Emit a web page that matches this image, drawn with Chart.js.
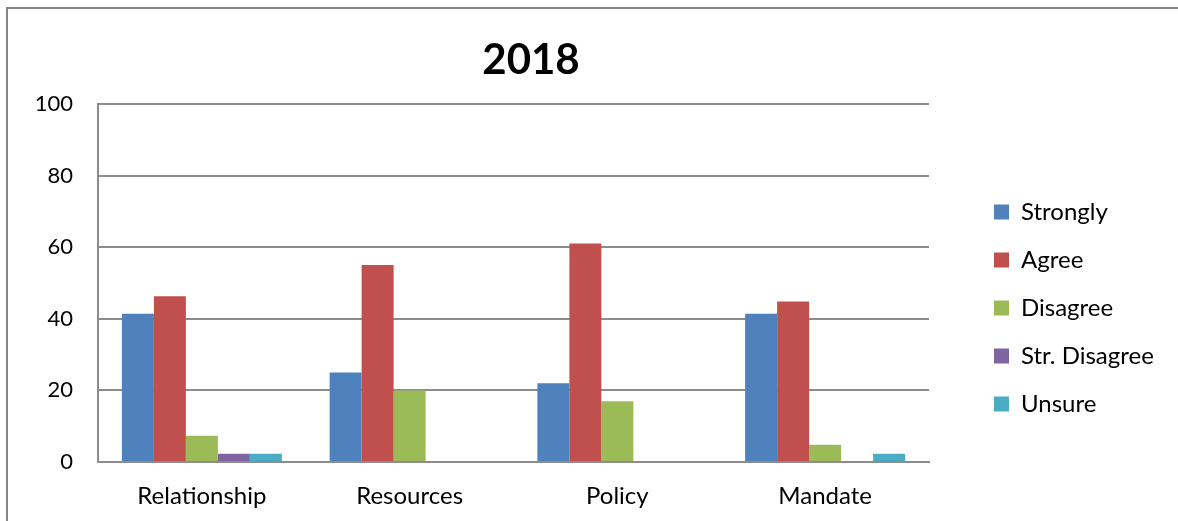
<!DOCTYPE html>
<html>
<head>
<meta charset="utf-8">
<script src="https://cdn.jsdelivr.net/npm/chart.js@4/dist/chart.umd.min.js"></script>
<style>
  html, body { margin: 0; padding: 0; background: #ffffff; }
  #wrap { width: 1178px; height: 521px; position: relative; }
</style>
</head>
<body>
<div id="wrap"><canvas id="c" width="1178" height="521"></canvas></div>
<script>
const titleText = '2018';
const categories = ['Relationship', 'Resources', 'Policy', 'Mandate'];
const seriesNames = ['Strongly', 'Agree', 'Disagree', 'Str. Disagree', 'Unsure'];
const strongly = [41.4, 25, 22, 41.4];
const agree = [46.3, 55, 61, 44.8];
const disagree = [7.3, 20, 17, 4.8];
const strDisagree = [2.3, 0, 0, 0];
const unsure = [2.3, 0, 0, 2.3];
const yTicks = [0, 20, 40, 60, 80, 100];

const colors = ['#4F81BD', '#C0504D', '#9BBB59', '#8064A2', '#4BACC6'];
const seriesValues = [strongly, agree, disagree, strDisagree, unsure];

const FONT = 'Lato, "Open Sans", "DejaVu Sans", sans-serif';
const GRID = '#8c8c8c';

// target plot geometry
const TARGET = { left: 98, right: 929, top: 104, bottom: 462 };

const frame = {
  id: 'frame',
  beforeDraw(chart) {
    const ctx = chart.ctx;
    ctx.save();
    ctx.fillStyle = '#ffffff';
    ctx.fillRect(0, 0, chart.width, chart.height);
    ctx.strokeStyle = '#868686';
    ctx.lineWidth = 2;
    ctx.beginPath();
    ctx.moveTo(7, chart.height);
    ctx.lineTo(7, 8);
    ctx.lineTo(chart.width, 8);
    ctx.stroke();
    ctx.restore();
  }
};

const shifter = {
  id: 'shifter',
  afterLayout(chart) {
    const lg = chart.legend;
    if (lg) {
      const pad = lg.options.labels.padding;
      const fs = lg.options.labels.font.size;
      const colH = seriesNames.length * (fs + pad);
      const desiredStart = 212 - fs / 2;
      const needSum = 2 * desiredStart - pad + colH;
      const dy = (needSum - (lg.top + lg.bottom)) / 2;
      lg.top += dy; lg.bottom += dy;
      const dx = 994 - pad - lg.left;
      lg.left += dx; lg.right += dx;
    }
    const t = chart.titleBlock;
    if (t) {
      const dx = 531 - (t.left + t.right) / 2;
      t.left += dx; t.right += dx;
    }
  }
};

const chart = new Chart(document.getElementById('c'), {
  type: 'bar',
  data: {
    labels: categories,
    datasets: seriesNames.map((name, i) => ({
      label: name,
      data: seriesValues[i],
      backgroundColor: colors[i],
      borderWidth: 0,
      categoryPercentage: 0.77,
      barPercentage: 1.0
    }))
  },
  options: {
    responsive: false,
    animation: false,
    devicePixelRatio: 1,
    layout: { padding: { left: 0, right: 60, top: 0, bottom: 10 } },
    plugins: {
      title: {
        display: true,
        text: titleText,
        fullSize: false,
        color: '#000000',
        font: { family: FONT, size: 42, weight: 'bold' },
        padding: { top: 35, bottom: 21 }
      },
      legend: {
        display: true,
        position: 'right',
        align: 'center',
        labels: {
          boxWidth: 15,
          boxHeight: 15,
          padding: 24,
          color: '#000000',
          font: { family: FONT, size: 24 }
        }
      },
      tooltip: { enabled: false }
    },
    scales: {
      x: {
        grid: { display: false, drawTicks: false },
        border: { display: true, color: GRID, width: 2 },
        ticks: { color: '#000000', font: { family: FONT, size: 24 }, padding: 20 }
      },
      y: {
        min: 0,
        max: 100,
        afterFit(scale) { scale.width = TARGET.left; },
        afterBuildTicks(scale) { scale.ticks = yTicks.map(v => ({ value: v })); },
        grid: { color: GRID, lineWidth: 2, drawTicks: false },
        border: { display: true, color: GRID, width: 2 },
        ticks: { color: '#000000', font: { family: FONT, size: 22 }, padding: 25 }
      }
    }
  },
  plugins: [frame, shifter]
});

// correction pass to fit the plot area to the target geometry
(function adjust() {
  const a = chart.chartArea;
  const p = chart.options.layout.padding;
  p.right += a.right - TARGET.right;
  p.bottom += a.bottom - TARGET.bottom;
  chart.options.plugins.title.padding.bottom += TARGET.top - a.top;
  chart.update('none');
})();
</script>
</body>
</html>
